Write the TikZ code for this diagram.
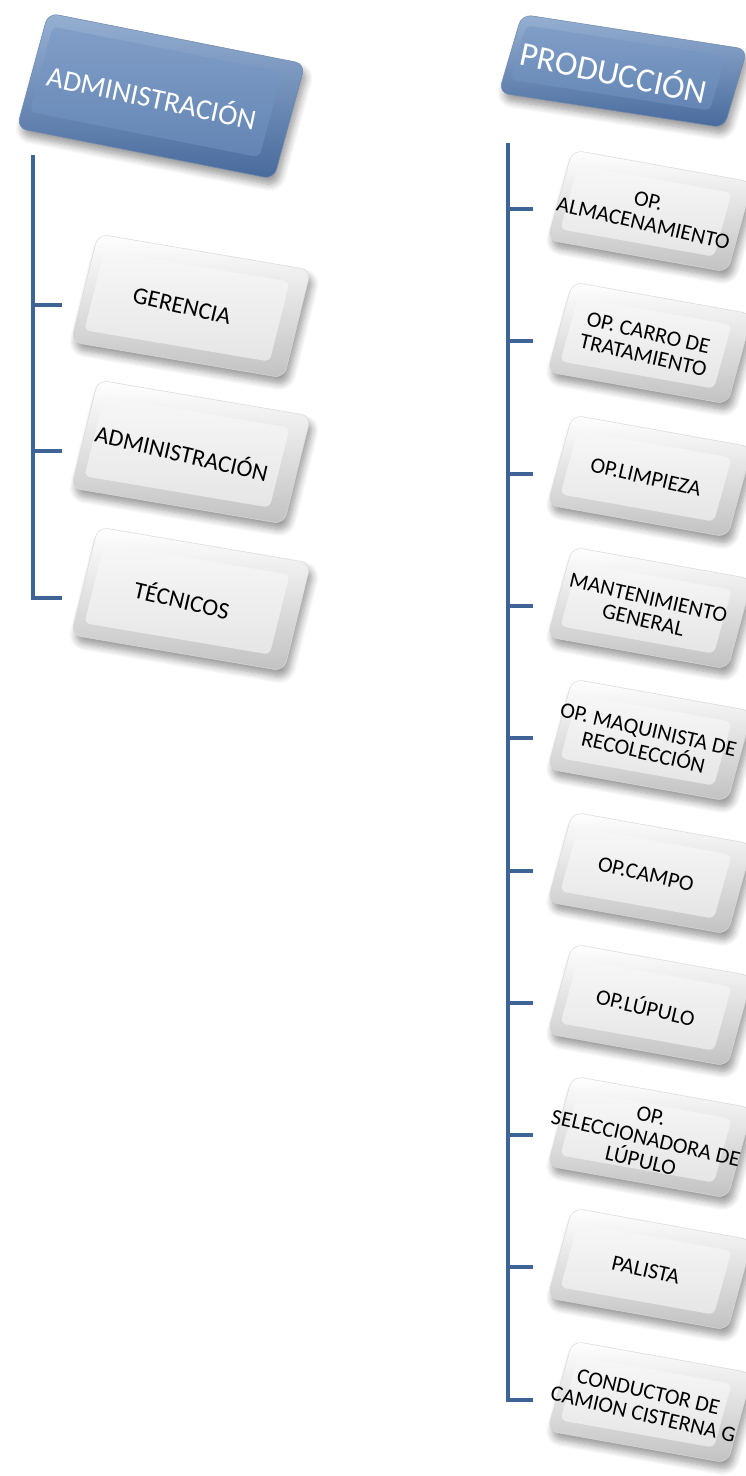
\documentclass[tikz,border=0pt]{standalone}
\usepackage{fontspec}
\setmainfont{Carlito}
\usetikzlibrary{shadows.blur}
\definecolor{linea}{RGB}{62,100,150}
\definecolor{azulclaro}{RGB}{150,176,210}
\definecolor{azuloscuro}{RGB}{72,106,156}
\definecolor{azulcara}{RGB}{128,158,199}
\definecolor{azulcarab}{RGB}{100,133,180}

\tikzset{
  rama/.style={draw=linea, line width=4pt},
  marco/.style={rectangle, inner sep=0pt, rounded corners=10pt, draw=gray!30, line width=.5pt,
    top color=white, bottom color=gray!48,
    blur shadow={shadow xshift=3pt, shadow yshift=-7pt, shadow opacity=40, shadow blur steps=8, shadow blur radius=7pt}},
  cara/.style={rectangle, inner sep=0pt, rounded corners=6pt, top color=gray!6, bottom color=gray!20},
  jefe/.style={marco, draw=azuloscuro!80, top color=azulclaro, bottom color=azuloscuro},
  jefecara/.style={cara, top color=azulcara, bottom color=azulcarab},
  izq/.style={rotate=-9.6, xslant=0.077, minimum width=216pt, minimum height=111pt},
  izqcara/.style={xshift=-4pt, rotate=-9.6, xslant=0.077, minimum width=188pt, minimum height=82pt},
  der/.style={rotate=-10.1, xslant=0.095, minimum width=183pt, minimum height=93pt},
  dercara/.style={xshift=-4pt, rotate=-10.1, xslant=0.095, minimum width=156pt, minimum height=66pt},
  letra/.style={inner sep=0pt, align=center, xshift=-9pt, rotate=-13},
  letraizq/.style={letra, font=\fontsize{24}{26}\selectfont},
  letrader/.style={letra, xshift=5pt, font=\fontsize{22}{23}\selectfont}
}

\begin{document}
\begin{tikzpicture}[x=1pt,y=-1pt]
\useasboundingbox (0,0) rectangle (745,1476);
% cabeceras
\node[jefe, rotate=-11.2, xslant=0.07, minimum width=262pt, minimum height=119pt] (adm) at (161,96) {};
\node[jefecara, xshift=-5pt, yshift=4pt, rotate=-11.2, xslant=0.07, minimum width=234pt, minimum height=88pt] (adm-c) at (adm) {};
\node[letra, text=white, rotate=1, font=\fontsize{29}{31}\selectfont] (adm-t) at (adm) {ADMINISTRACIÓN};
\node[jefe, rotate=-8.8, xslant=0.134, minimum width=228pt, minimum height=81pt] (prod) at (623,71) {};
\node[jefecara, xshift=-5pt, yshift=3pt, rotate=-8.8, xslant=0.134, minimum width=202pt, minimum height=56pt] (prod-c) at (prod) {};
\node[letra, text=white, rotate=1, font=\fontsize{34}{36}\selectfont] (prod-t) at (prod) {PRODUCCIÓN};

% administracion
\node[marco, izq] (ger) at (191,306) {};
\node[cara, izqcara] (ger-c) at (ger) {};
\node[letraizq] (ger-t) at (ger) {GERENCIA};
\node[marco, izq] (admi) at (191,452) {};
\node[cara, izqcara] (admi-c) at (admi) {};
\node[letraizq] (admi-t) at (admi) {ADMINISTRACIÓN};
\node[marco, izq] (tec) at (191,599) {};
\node[cara, izqcara] (tec-c) at (tec) {};
\node[letraizq] (tec-t) at (tec) {TÉCNICOS};

% produccion
\node[marco, der] (alm) at (650,211) {};
\node[cara, dercara] (alm-c) at (alm) {};
\node[letrader] (alm-t) at (alm) {OP.\\ALMACENAMIENTO};
\node[marco, der] (carro) at (650,343) {};
\node[cara, dercara] (carro-c) at (carro) {};
\node[letrader] (carro-t) at (carro) {OP. CARRO DE\\TRATAMIENTO};
\node[marco, der] (limp) at (650,476) {};
\node[cara, dercara] (limp-c) at (limp) {};
\node[letrader] (limp-t) at (limp) {OP.LIMPIEZA};
\node[marco, der] (mant) at (650,608) {};
\node[cara, dercara] (mant-c) at (mant) {};
\node[letrader] (mant-t) at (mant) {MANTENIMIENTO\\GENERAL};
\node[marco, der] (maq) at (650,740) {};
\node[cara, dercara] (maq-c) at (maq) {};
\node[letrader] (maq-t) at (maq) {OP. MAQUINISTA DE\\RECOLECCIÓN};
\node[marco, der] (campo) at (650,873) {};
\node[cara, dercara] (campo-c) at (campo) {};
\node[letrader] (campo-t) at (campo) {OP.CAMPO};
\node[marco, der] (lup) at (650,1005) {};
\node[cara, dercara] (lup-c) at (lup) {};
\node[letrader] (lup-t) at (lup) {OP.LÚPULO};
\node[marco, der] (sel) at (650,1137) {};
\node[cara, dercara] (sel-c) at (sel) {};
\node[letrader] (sel-t) at (sel) {OP.\\SELECCIONADORA DE\\LÚPULO};
\node[marco, der] (pal) at (650,1269) {};
\node[cara, dercara] (pal-c) at (pal) {};
\node[letrader] (pal-t) at (pal) {PALISTA};
\node[marco, der] (cond) at (650,1402) {};
\node[cara, dercara] (cond-c) at (cond) {};
\node[letrader] (cond-t) at (cond) {CONDUCTOR DE\\CAMION CISTERNA G};

% lineas
\coordinate (a0) at (33,155);
\coordinate (ta1) at (62,305);
\coordinate (ta2) at (62,451);
\coordinate (ta3) at (62,598);
\draw[rama] (a0) |- (ta3);
\draw[rama] (a0 |- ta1) -- (ta1);
\draw[rama] (a0 |- ta2) -- (ta2);

\coordinate (b0) at (508,143);
\coordinate (tb1) at (533,209);
\coordinate (tb2) at (533,341);
\coordinate (tb3) at (533,474);
\coordinate (tb4) at (533,606);
\coordinate (tb5) at (533,738);
\coordinate (tb6) at (533,871);
\coordinate (tb7) at (533,1003);
\coordinate (tb8) at (533,1135);
\coordinate (tb9) at (533,1267);
\coordinate (tb10) at (533,1400);
\draw[rama] (b0) |- (tb10);
\draw[rama] (b0 |- tb1) -- (tb1);
\draw[rama] (b0 |- tb2) -- (tb2);
\draw[rama] (b0 |- tb3) -- (tb3);
\draw[rama] (b0 |- tb4) -- (tb4);
\draw[rama] (b0 |- tb5) -- (tb5);
\draw[rama] (b0 |- tb6) -- (tb6);
\draw[rama] (b0 |- tb7) -- (tb7);
\draw[rama] (b0 |- tb8) -- (tb8);
\draw[rama] (b0 |- tb9) -- (tb9);
\end{tikzpicture}
\end{document}
